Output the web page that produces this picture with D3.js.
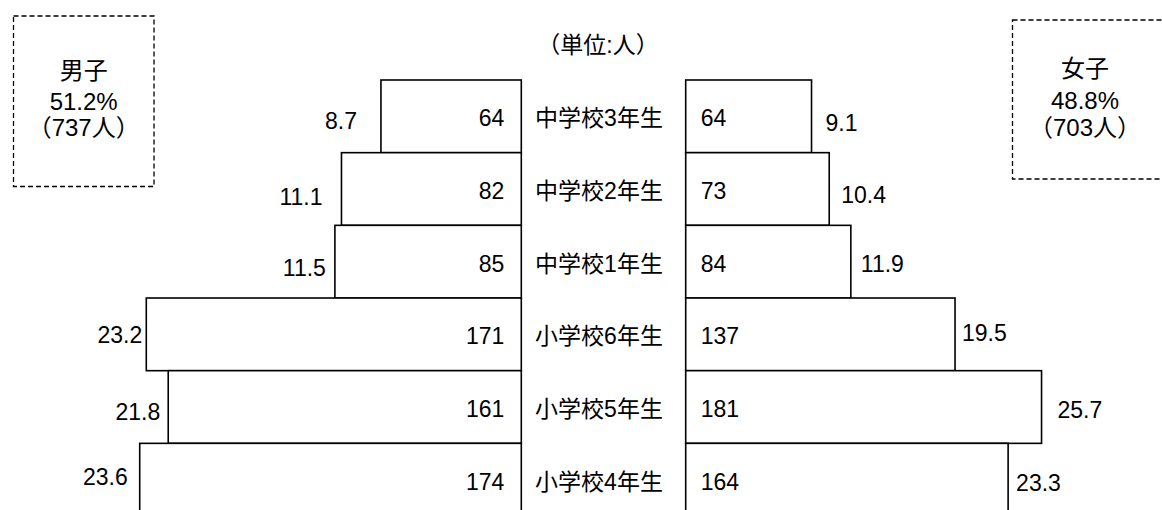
<!DOCTYPE html>
<html>
<head>
<meta charset="utf-8">
<script src="https://cdn.jsdelivr.net/npm/d3@7"></script>
<style>
  body { margin: 0; background: #fff; }
  svg { display: block; font-family: "Liberation Sans", "Noto Sans CJK JP", sans-serif; }
</style>
</head>
<body>
<div id="vis"></div>
<script>
// grade rows, top to bottom
var grades = ["中学校3年生", "中学校2年生", "中学校1年生", "小学校6年生", "小学校5年生", "小学校4年生"];
var boysCount = [64, 82, 85, 171, 161, 174];
var boysPct = [8.7, 11.1, 11.5, 23.2, 21.8, 23.6];
var girlsCount = [64, 73, 84, 137, 181, 164];
var girlsPct = [9.1, 10.4, 11.9, 19.5, 25.7, 23.3];
var legendBoys = ["男子", "51.2%", "（737人）"];
var legendGirls = ["女子", "48.8%", "（703人）"];
var unitLabel = "（単位:人）";

// label nudges (px) copied by eye, the source placed these by hand
var boysPctGap = [24, 19, 9, 4, 8, 12];
var boysPctDy = [5, 8, 6, 1, 5, -3];
var girlsPctGap = [14, 12, 10, 7, 16, 8];
var girlsPctDy = [7, 6, 2, -1, 3, 3];

const WIDTH = 1162;
const HEIGHT = 510;
const LEFT_EDGE = 521.3;
const RIGHT_EDGE = 685.7;
const TOP = 80;
const ROW_H = 72.67;
const FONT = 23;
const LEGEND_FONT = 24;

var svg = d3.select("#vis").append("svg")
    .attr("width", WIDTH)
    .attr("height", HEIGHT);

var y = d3.scaleBand()
    .domain(grades)
    .range([TOP, TOP + ROW_H * grades.length])
    .padding(0);

// the two halves use different px per person in the original
var xL = d3.scaleLinear().domain([0, 200]).range([LEFT_EDGE, LEFT_EDGE - 438.6]);
var xR = d3.scaleLinear().domain([0, 200]).range([RIGHT_EDGE, RIGHT_EDGE + 393.2]);

var rows = grades.map(function (g, i) {
    return {grade: g, bc: boysCount[i], bp: boysPct[i], gc: girlsCount[i], gp: girlsPct[i], i: i};
});

var bars = svg.append("g");
bars.selectAll("rect.boys")
    .data(rows)
    .enter().append("rect")
    .attr("class", "boys")
    .attr("x", function (d) { return xL(d.bc); })
    .attr("y", function (d) { return y(d.grade); })
    .attr("width", function (d) { return xL(0) - xL(d.bc); })
    .attr("height", y.bandwidth())
    .attr("fill", "#fff")
    .attr("stroke", "#000")
    .attr("stroke-width", 1.6);

bars.selectAll("rect.girls")
    .data(rows)
    .enter().append("rect")
    .attr("class", "girls")
    .attr("x", xR(0))
    .attr("y", function (d) { return y(d.grade); })
    .attr("width", function (d) { return xR(d.gc) - xR(0); })
    .attr("height", y.bandwidth())
    .attr("fill", "#fff")
    .attr("stroke", "#000")
    .attr("stroke-width", 1.6);

function cy(d) { return y(d.grade) + y.bandwidth() / 2; }

var labels = svg.append("g")
    .attr("font-size", FONT + "px")
    .attr("fill", "#000")
    .attr("dominant-baseline", "central");

// counts inside the bars
labels.selectAll("text.bc")
    .data(rows)
    .enter().append("text")
    .attr("x", LEFT_EDGE - 17)
    .attr("y", function (d) { return cy(d) + 2; })
    .attr("text-anchor", "end")
    .text(function (d) { return d.bc; });

labels.selectAll("text.gc")
    .data(rows)
    .enter().append("text")
    .attr("x", RIGHT_EDGE + 15)
    .attr("y", function (d) { return cy(d) + 2; })
    .attr("text-anchor", "start")
    .text(function (d) { return d.gc; });

// percentages outside the bars
labels.selectAll("text.bp")
    .data(rows)
    .enter().append("text")
    .attr("x", function (d) { return xL(d.bc) - boysPctGap[d.i]; })
    .attr("y", function (d) { return cy(d) + boysPctDy[d.i]; })
    .attr("text-anchor", "end")
    .text(function (d) { return d.bp.toFixed(1); });

labels.selectAll("text.gp")
    .data(rows)
    .enter().append("text")
    .attr("x", function (d) { return xR(d.gc) + girlsPctGap[d.i]; })
    .attr("y", function (d) { return cy(d) + girlsPctDy[d.i]; })
    .attr("text-anchor", "start")
    .text(function (d) { return d.gp.toFixed(1); });

// grade names in the middle column
labels.selectAll("text.grade")
    .data(rows)
    .enter().append("text")
    .attr("x", 599)
    .attr("y", function (d) { return cy(d) + 2; })
    .attr("text-anchor", "middle")
    .text(function (d) { return d.grade; });

labels.append("text")
    .attr("x", 598)
    .attr("y", 45)
    .attr("text-anchor", "middle")
    .text(unitLabel);

// dashed legend boxes
function legendBox(x, yTop, w, h, lines, cx, lineY) {
    svg.append("rect")
        .attr("x", x).attr("y", yTop)
        .attr("width", w).attr("height", h)
        .attr("fill", "none")
        .attr("stroke", "#000")
        .attr("stroke-width", 1.3)
        .attr("stroke-dasharray", "5,3");
    svg.append("g")
        .attr("font-size", LEGEND_FONT + "px")
        .attr("dominant-baseline", "central")
        .attr("text-anchor", "middle")
        .selectAll("text")
        .data(lines)
        .enter().append("text")
        .attr("x", cx)
        .attr("y", function (d, i) { return lineY[i]; })
        .text(function (d) { return d; });
}

legendBox(13.5, 16, 140.5, 170.5, legendBoys, 83.7, [70, 101.7, 127.7]);
legendBox(1012.5, 20, 170, 159, legendGirls, 1085, [68, 100, 127.7]);
</script>
</body>
</html>
